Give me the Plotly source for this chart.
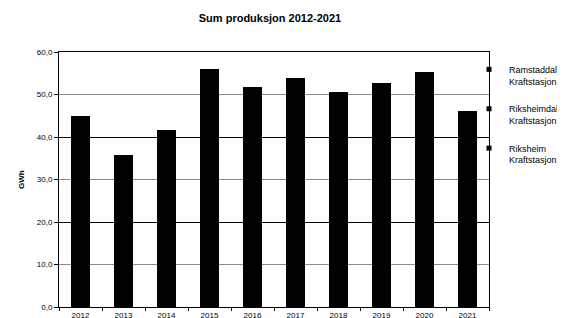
import plotly.graph_objects as go

years = ["2012", "2013", "2014", "2015", "2016", "2017", "2018", "2019", "2020", "2021"]
ramstaddal = [42.0, 33.0, 38.6, 52.9, 48.8, 50.9, 47.6, 49.6, 52.1, 43.0]
riksheimdal = [2.2, 2.1, 2.3, 2.2, 2.2, 2.4, 2.3, 2.2, 2.3, 2.4]
riksheim = [0.7, 0.7, 0.7, 0.8, 0.8, 0.7, 0.8, 0.8, 0.8, 0.8]
series_names = ["Ramstaddal<br>Kraftstasjon", "Riksheimdal<br>Kraftstasjon", "Riksheim<br>Kraftstasjon"]
yticks = [0, 10, 20, 30, 40, 50, 60]
yticktext = ["0,0", "10,0", "20,0", "30,0", "40,0", "50,0", "60,0"]

FONT = "Liberation Sans, Arial, sans-serif"
# the page body adds an 8px offset; figure is sized to fill the rest of the window
W, H = 557, 310

fig = go.Figure()
for i, (vals, name) in enumerate(zip([ramstaddal, riksheimdal, riksheim], series_names)):
    fig.add_trace(go.Bar(x=years, y=vals, name=name, marker=dict(color="black", line=dict(width=0)),
                         showlegend=False))
    fig.add_trace(go.Scatter(x=[None], y=[None], mode="markers", name=name,
                             marker=dict(symbol="square", size=5, color="black"),
                             legendgroup=f"g{i}", showlegend=True))

# overlay axis for the darker gridlines
fig.add_trace(go.Scatter(x=[None], y=[None], yaxis="y2", showlegend=False, hoverinfo="skip"))

fig.update_layout(
    width=W, height=H,
    margin=dict(l=51, r=76, t=44, b=11, autoexpand=False),
    paper_bgcolor="white", plot_bgcolor="white",
    barmode="stack", bargap=0.58,
    font=dict(family=FONT, size=8, color="black"),
    title=dict(text="<b>Sum produksjon 2012-2021</b>", font=dict(size=11, family=FONT),
               x=262 / W, xanchor="center", y=1 - 10 / H, yanchor="middle", xref="container", yref="container"),
    xaxis=dict(type="category", showline=True, linecolor="black", linewidth=1, mirror=True,
               ticks="outside", ticklen=3, tickcolor="black", tickson="boundaries", automargin=False,
               tickfont=dict(size=8), showgrid=False),
    yaxis=dict(range=[0, 60], tickvals=yticks, ticktext=yticktext, showline=True, linecolor="black",
               linewidth=1, mirror=True, ticks="outside", ticklen=4, tickcolor="black", automargin=False,
               showgrid=True, gridcolor="#8a8a8a", gridwidth=1, tickfont=dict(size=8), zeroline=False),
    yaxis2=dict(range=[0, 60], overlaying="y", side="left", tickvals=[20, 40], showticklabels=False,
                automargin=False,
                showgrid=True, gridcolor="black", gridwidth=1, ticks="", zeroline=False, showline=False),
    legend=dict(x=461 / W, xanchor="left", xref="container", y=1 - 49 / H, yanchor="top", yref="container",
                font=dict(size=9, family=FONT), valign="top",
                tracegroupgap=13, traceorder="grouped", itemwidth=30, bgcolor="rgba(0,0,0,0)"),
    annotations=[dict(text="<b>GWh</b>", textangle=-90, x=(7 - 51) / 430, xref="paper", y=0.5, yref="paper",
                      showarrow=False, font=dict(size=8, family=FONT))],
)
fig.write_html("out.html")
